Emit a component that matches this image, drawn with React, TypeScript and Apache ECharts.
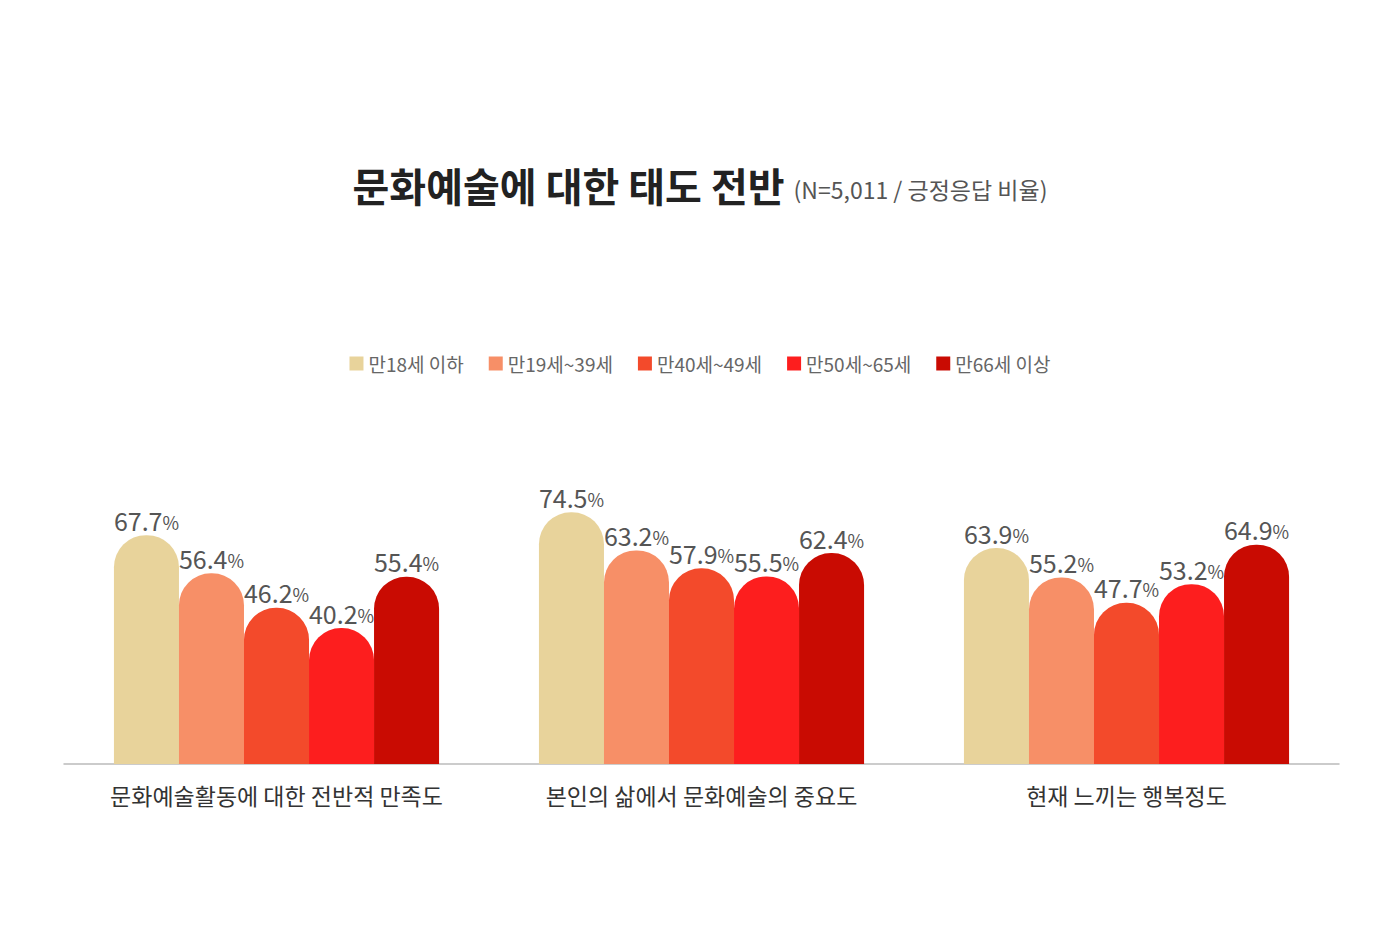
import React, { useRef, useEffect } from "react";
import * as echarts from "echarts";

const categories = [
  "문화예술활동에 대한 전반적 만족도",
  "본인의 삶에서 문화예술의 중요도",
  "현재 느끼는 행복정도",
];
const groups = ["만18세 이하", "만19세~39세", "만40세~49세", "만50세~65세", "만66세 이상"];
const colors = ["#E8D39B", "#F78F67", "#F34A2B", "#FD1E1E", "#C90B02"];
const age18 = [67.7, 74.5, 63.9];
const age19to39 = [56.4, 63.2, 55.2];
const age40to49 = [46.2, 57.9, 47.7];
const age50to65 = [40.2, 55.5, 53.2];
const age66 = [55.4, 62.4, 64.9];
const seriesValues = [age18, age19to39, age40to49, age50to65, age66];

const FONT = "'Noto Sans CJK KR', 'Noto Sans', sans-serif";

const App = function () {
  const chart = useRef<HTMLDivElement>(null);
  useEffect(() => {
    document.body.style.margin = "0";
    if (!chart.current) return;
    const myChart = echarts.init(chart.current, null, { renderer: "svg" });
    const option = {
      animation: false,
      backgroundColor: "#ffffff",
      title: {
        text: "{a|문화예술에 대한 태도 전반} {b|(N=5,011 / 긍정응답 비율)}",
        left: "center",
        top: 160,
        textStyle: {
          rich: {
            a: {
              fontFamily: FONT,
              fontSize: 40,
              fontWeight: "bold",
              color: "#222222",
            },
            b: {
              fontFamily: FONT,
              fontSize: 23,
              fontWeight: "normal",
              color: "#555555",
              padding: [8, 0, 0, 4],
            },
          },
        },
      },
      legend: {
        data: groups,
        top: 349,
        left: "center",
        itemWidth: 14,
        itemHeight: 14,
        itemGap: 25,
        icon: "rect",
        textStyle: {
          fontFamily: FONT,
          fontSize: 19,
          color: "#666666",
        },
      },
      grid: {
        left: 64,
        right: 61,
        top: 426,
        bottom: 930 - 764,
        containLabel: false,
      },
      xAxis: {
        type: "category",
        data: categories,
        axisLine: { lineStyle: { color: "#bbbbbb", width: 1.5 } },
        axisTick: { show: false },
        axisLabel: {
          interval: 0,
          fontFamily: FONT,
          fontSize: 23,
          color: "#333333",
          margin: 19,
        },
      },
      yAxis: {
        type: "value",
        min: 0,
        max: 100,
        show: false,
        splitLine: { show: false },
      },
      series: groups.map((name, i) => ({
        name,
        type: "bar",
        data: seriesValues[i],
        barGap: "0%",
        barCategoryGap: "23.5%",
        itemStyle: {
          color: colors[i],
          borderRadius: [32, 32, 0, 0],
        },
        label: {
          show: true,
          position: "top",
          distance: 3,
          formatter: (p: any) => `{n|${p.value}}{p|%}`,
          rich: {
            n: { fontFamily: FONT, fontSize: 25, color: "#555555" },
            p: { fontFamily: FONT, fontSize: 18, color: "#555555", padding: [4, 0, 0, 0] },
          },
        },
      })),
    };
    myChart.setOption(option as any);
    return () => {
      myChart.dispose();
    };
  }, []);
  return <div ref={chart} style={{ width: 1400, height: 930 }}></div>;
};

export default App;
